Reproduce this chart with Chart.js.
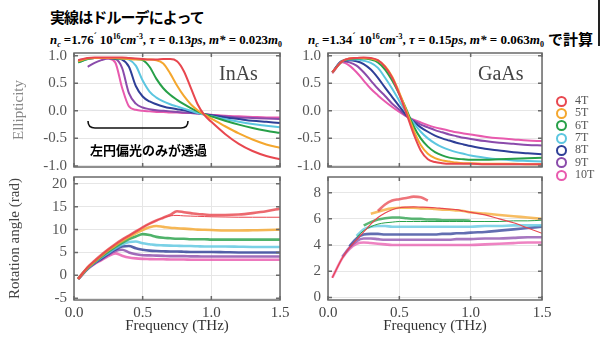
<!DOCTYPE html>
<html>
<head>
<meta charset="utf-8">
<script src="https://cdn.jsdelivr.net/npm/chart.js@4.4.1/dist/chart.umd.min.js"></script>
<style>
body { margin: 0; background: #fff; width: 602px; height: 338px; position: relative; overflow: hidden; font-family: "Liberation Serif", serif; }
canvas { position: absolute; }
.t { position: absolute; white-space: nowrap; line-height: 1; }
.jp { font-family: "Noto Sans CJK JP", sans-serif; font-weight: bold; color: #000; }
.f { font-family: "Liberation Serif", serif; font-weight: bold; font-size: 13px; color: #000; transform-origin: left center; }
.f i { font-style: italic; }
.sb { font-size: 8px; position: relative; top: 3px; }
.sp { font-size: 8px; position: relative; top: -5px; }
.lab { font-family: "Liberation Serif", serif; font-size: 20px; color: #444; }
.leg { position: absolute; left: 556px; font: 12px "Liberation Serif", serif; color: #555; }
.leg span { display: inline-block; width: 7px; height: 7px; border-radius: 50%; border: 2px solid; vertical-align: middle; margin-right: 8px; }
</style>
</head>
<body>
<div class="t jp" style="left:50px;top:9px;font-size:15px;letter-spacing:-0.9px">実線はドルーデによって</div>
<div class="t f" id="fL" data-w="232" style="left:50px;top:32px"><i>n</i><span class="sb"><i>c</i></span> =1.76<sup style="font-size:9px">´</sup> 10<span class="sp">16</span><i>cm</i><span class="sp">-3</span>, <i>τ</i> = 0.13<i>ps</i>, <i>m*</i> = 0.023<i>m</i><span class="sb">0</span></div>
<div class="t f" id="fR" data-w="236" style="left:308px;top:32px"><i>n</i><span class="sb"><i>c</i></span> =1.34<sup style="font-size:9px">´</sup> 10<span class="sp">16</span><i>cm</i><span class="sp">-3</span>, <i>τ</i> = 0.15<i>ps</i>, <i>m*</i> = 0.063<i>m</i><span class="sb">0</span></div>
<div class="t jp" style="left:548px;top:31px;font-size:15px">で計算</div>
<div style="position:absolute;left:598px;top:0;width:1.5px;height:46px;background:#222"></div>

<canvas id="c1"></canvas>
<canvas id="c2"></canvas>
<canvas id="c3"></canvas>
<canvas id="c4"></canvas>

<div class="t lab" style="left:219px;top:63px">InAs</div>
<div class="t lab" style="left:478px;top:63px">GaAs</div>
<svg style="position:absolute;left:0;top:0" width="602" height="338">
  <path d="M88,121 Q88,128 95,128 L181,128 Q188,128 188,121" fill="none" stroke="#111" stroke-width="1.6"/>
</svg>
<div class="t jp" style="left:90px;top:143px;font-size:13px">左円偏光のみが透過</div>
<div id="legend"></div>

<script>
// 磁場ごとの色
const fields = ["4T", "5T", "6T", "7T", "8T", "9T", "10T"];
const colors = ["#e8474f", "#f4a72e", "#27a048", "#5cc6e0", "#2e3f97", "#8a4bab", "#e85aae"];

// 共通の周波数 (THz)
const freq = [0.03, 0.1, 0.15, 0.2, 0.25, 0.3, 0.35, 0.4, 0.45, 0.5, 0.55, 0.6, 0.65, 0.7, 0.75, 0.8, 0.85, 0.9, 0.95, 1.0, 1.1, 1.2, 1.3, 1.4, 1.5];

// 目盛り
const freqTicks = [0, 0.5, 1.0, 1.5];
const ellTicks = [-1.0, -0.5, 0.0, 0.5, 1.0];
const rotTicksInAs = [-5, 0, 5, 10, 15, 20];
const rotTicksGaAs = [0, 2, 4, 6, 8];

// InAs 楕円率
const inasEll = [
    [0.92, 0.96, 0.97, 0.97, 0.97, 0.97, 0.97, 0.96, 0.95, 0.94, 0.93, 0.93, 0.94, 0.94, 0.9, 0.72, 0.42, 0.12, -0.08, -0.2, -0.42, -0.6, -0.73, -0.82, -0.88],
    [0.9, 0.95, 0.96, 0.96, 0.96, 0.96, 0.95, 0.94, 0.93, 0.93, 0.93, 0.92, 0.86, 0.68, 0.46, 0.27, 0.12, 0.01, -0.07, -0.14, -0.28, -0.41, -0.52, -0.61, -0.67],
    [0.88, 0.94, 0.96, 0.96, 0.96, 0.95, 0.95, 0.95, 0.94, 0.92, 0.8, 0.58, 0.41, 0.29, 0.2, 0.12, 0.05, -0.01, -0.06, -0.1, -0.18, -0.25, -0.31, -0.36, -0.4],
    [0.88, 0.94, 0.96, 0.96, 0.96, 0.96, 0.95, 0.93, 0.82, 0.55, 0.35, 0.24, 0.17, 0.12, 0.08, 0.04, 0.0, -0.04, -0.07, -0.1, -0.15, -0.2, -0.24, -0.27, -0.3],
    [0.9, 0.95, 0.96, 0.96, 0.96, 0.95, 0.93, 0.8, 0.45, 0.26, 0.17, 0.12, 0.08, 0.05, 0.03, 0.01, -0.02, -0.04, -0.06, -0.08, -0.12, -0.15, -0.18, -0.2, -0.22],
    [null, 0.8, 0.87, 0.92, 0.95, 0.94, 0.78, 0.32, 0.13, 0.06, 0.03, 0.01, 0.0, -0.01, -0.02, -0.03, -0.04, -0.05, -0.06, -0.08, -0.1, -0.12, -0.13, -0.14, -0.15],
    [0.92, 0.95, 0.96, 0.96, 0.95, 0.88, 0.42, 0.08, 0.02, 0.0, -0.01, -0.02, -0.02, -0.03, -0.03, -0.04, -0.04, -0.05, -0.06, -0.07, -0.09, -0.1, -0.11, -0.12, -0.12]
];

// GaAs 楕円率
const gaasEll = [
    [0.7, 0.9, 0.95, 0.96, 0.97, 0.96, 0.92, 0.8, 0.6, 0.3, -0.05, -0.42, -0.72, -0.88, -0.93, -0.95, -0.96, -0.96, -0.96, -0.96, -0.97, -0.97, -0.97, -0.97, -0.97],
    [0.7, 0.9, 0.95, 0.96, 0.96, 0.95, 0.91, 0.81, 0.62, 0.33, 0.0, -0.35, -0.62, -0.78, -0.86, -0.9, -0.92, -0.94, -0.95, -0.95, -0.96, -0.96, -0.96, -0.97, -0.97],
    [0.7, 0.9, 0.94, 0.95, 0.95, 0.93, 0.88, 0.75, 0.55, 0.3, 0.02, -0.28, -0.5, -0.65, -0.75, -0.81, -0.85, -0.87, -0.88, -0.89, -0.89, -0.88, -0.87, -0.86, -0.85],
    [0.7, 0.9, 0.93, 0.93, 0.91, 0.87, 0.78, 0.6, 0.4, 0.18, -0.04, -0.22, -0.38, -0.5, -0.59, -0.66, -0.71, -0.75, -0.78, -0.81, -0.85, -0.88, -0.9, -0.91, -0.92],
    [0.7, 0.91, 0.92, 0.9, 0.85, 0.75, 0.6, 0.42, 0.25, 0.08, -0.08, -0.2, -0.3, -0.38, -0.45, -0.5, -0.54, -0.58, -0.61, -0.64, -0.69, -0.72, -0.75, -0.77, -0.79],
    [0.7, 0.9, 0.88, 0.82, 0.7, 0.55, 0.4, 0.27, 0.13, 0.02, -0.1, -0.18, -0.25, -0.3, -0.35, -0.39, -0.43, -0.46, -0.49, -0.51, -0.55, -0.58, -0.6, -0.62, -0.63],
    [0.68, 0.88, 0.82, 0.7, 0.55, 0.4, 0.28, 0.17, 0.07, -0.02, -0.1, -0.16, -0.21, -0.26, -0.3, -0.33, -0.36, -0.39, -0.41, -0.43, -0.47, -0.5, -0.52, -0.54, -0.55]
];

// InAs 回転角 (実測)
const inasRot = [
    [-0.8, 1.8, 3.2, 4.5, 5.7, 6.8, 7.8, 8.7, 9.6, 10.5, 11.3, 12.0, 12.6, 13.2, 14.0, 13.8, 13.6, 13.4, 13.3, 13.2, 13.2, 13.3, 13.6, 14.0, 14.6],
    [-0.8, 1.7, 3.0, 4.3, 5.5, 6.5, 7.5, 8.4, 9.2, 9.9, 10.5, 10.8, 10.6, 10.4, 10.3, 10.2, 10.1, 10.0, 9.95, 9.9, 9.8, 9.8, 9.85, 9.9, 10.0],
    [-0.8, 1.6, 2.9, 4.1, 5.2, 6.2, 7.1, 7.9, 8.5, 9.0, 8.8, 8.4, 8.2, 8.1, 8.0, 8.0, 7.9, 7.9, 7.9, 7.8, 7.8, 7.8, 7.8, 7.8, 7.8],
    [-0.8, 1.5, 2.8, 3.9, 4.9, 5.9, 6.7, 7.3, 7.4, 7.0, 6.8, 6.6, 6.55, 6.5, 6.45, 6.4, 6.4, 6.35, 6.3, 6.3, 6.3, 6.25, 6.2, 6.2, 6.2],
    [-0.8, 1.5, 2.7, 3.7, 4.7, 5.6, 6.3, 6.4, 5.9, 5.6, 5.4, 5.3, 5.25, 5.2, 5.2, 5.15, 5.1, 5.1, 5.1, 5.1, 5.05, 5.0, 5.0, 5.0, 5.0],
    [-0.8, 1.4, 2.6, 3.5, 4.5, 5.3, 5.6, 5.0, 4.6, 4.4, 4.35, 4.3, 4.25, 4.2, 4.2, 4.2, 4.15, 4.15, 4.1, 4.1, 4.1, 4.1, 4.1, 4.1, 4.1],
    [-0.8, 1.4, 2.5, 3.3, 4.2, 4.8, 4.3, 3.9, 3.7, 3.6, 3.55, 3.5, 3.5, 3.45, 3.45, 3.45, 3.4, 3.4, 3.4, 3.4, 3.4, 3.4, 3.4, 3.4, 3.4]
];
// InAs 4T ドルーデ計算
const inasRotFit4T = [-0.8, 1.8, 3.2, 4.5, 5.7, 6.8, 7.8, 8.7, 9.6, 10.5, 11.3, 12.0, 12.6, 13.0, 13.1, 13.0, 12.95, 12.9, 12.85, 12.8, 12.75, 12.7, 12.7, 12.7, 12.7];

// GaAs 回転角 (実測)
const gaasRot = [
    [null, null, null, null, null, null, 6.6, 7.1, 7.4, 7.5, 7.6, 7.7, 7.65, 7.4, null, null, null, null, null, null, null, null, null, null, null],
    [null, null, null, null, null, 6.4, 6.55, 6.7, 6.8, 6.85, 6.85, 6.85, 6.8, 6.8, 6.75, 6.7, 6.7, 6.65, 6.6, 6.5, 6.4, 6.3, 6.2, 6.1, 6.0],
    [null, null, null, null, 5.5, 5.75, 5.95, 6.05, 6.1, 6.1, 6.05, 6.0, 6.0, 5.95, 5.95, 5.9, 5.9, 5.9, 5.9, 5.85, null, null, null, null, null],
    [null, null, null, 4.7, 5.2, 5.4, 5.45, 5.45, 5.4, 5.4, 5.4, 5.4, 5.4, 5.4, 5.4, 5.4, 5.4, 5.4, 5.4, 5.4, 5.45, 5.45, 5.5, 5.5, 5.5],
    [null, null, 3.9, 4.5, 4.8, 4.85, 4.85, 4.8, 4.8, 4.8, 4.8, 4.8, 4.8, 4.8, 4.8, 4.85, 4.85, 4.9, 4.9, 4.95, 5.0, 5.1, 5.2, 5.3, 5.4],
    [null, 3.1, 3.8, 4.3, 4.5, 4.5, 4.45, 4.4, 4.4, 4.4, 4.4, 4.4, 4.4, 4.4, 4.4, 4.4, 4.4, 4.45, 4.45, 4.45, 4.5, 4.5, 4.55, 4.6, 4.6],
    [1.5, 3.0, 3.7, 4.1, 4.2, 4.15, 4.1, 4.05, 4.0, 4.0, 4.0, 4.0, 4.0, 4.0, 4.0, 4.0, 4.0, 4.0, 4.0, 4.0, 4.05, 4.1, 4.15, 4.2, 4.2]
];
// GaAs ドルーデ計算 (4T, 6T)
const gaasRotFit4T = [1.5, 3.0, 3.8, 4.4, 5.0, 5.6, 6.1, 6.45, 6.7, 6.85, 6.9, 6.92, 6.9, 6.88, 6.85, 6.8, 6.75, 6.7, 6.6, 6.5, 6.3, 6.0, 5.7, 5.3, 4.9];
const gaasRotFit6T = [null, null, null, 4.6, 5.1, 5.4, 5.6, 5.7, 5.75, 5.8, 5.8, 5.8, 5.8, 5.8, 5.8, 5.8, 5.8, 5.8, 5.8, 5.8, 5.8, 5.8, 5.85, 5.85, 5.9];

// -------------------------------
// 枠と内向きの目盛り
// -------------------------------
const framePlugin = {
    id: "frame",
    afterDraw(chart) {
        const { ctx, chartArea: a, scales } = chart;
        ctx.save();
        ctx.strokeStyle = "#6a6a6a";
        ctx.lineWidth = 1.5;
        ctx.strokeRect(a.left, a.top, a.width, a.height);
        ctx.beginPath();
        scales.x.ticks.forEach(t => {
            const px = scales.x.getPixelForValue(t.value);
            ctx.moveTo(px, a.bottom); ctx.lineTo(px, a.bottom - 4);
            ctx.moveTo(px, a.top); ctx.lineTo(px, a.top + 4);
        });
        scales.y.ticks.forEach(t => {
            const py = scales.y.getPixelForValue(t.value);
            ctx.moveTo(a.left, py); ctx.lineTo(a.left + 4, py);
            ctx.moveTo(a.right, py); ctx.lineTo(a.right - 4, py);
        });
        ctx.stroke();
        ctx.restore();
    }
};

function line(vals, color, width) {
    return {
        data: freq.map((f, i) => ({ x: f, y: vals[i] })),
        borderColor: color,
        borderWidth: width,
        pointRadius: 0,
        cubicInterpolationMode: "monotone",
        fill: false
    };
}

function makeChart(id, box, datasets, y, showX, yTitle) {
    const cv = document.getElementById(id);
    cv.width = box.w; cv.height = box.h;
    cv.style.left = box.l + "px"; cv.style.top = box.t + "px";
    const tickFont = { family: "Liberation Serif", size: 15 };
    return new Chart(cv, {
        type: "line",
        data: { datasets: datasets },
        options: {
            responsive: false,
            animation: false,
            layout: { padding: { top: 20, right: 15, left: 0, bottom: showX ? 0 : 6 } },
            plugins: { legend: { display: false }, tooltip: { enabled: false } },
            scales: {
                x: {
                    type: "linear", min: 0, max: 1.5,
                    afterBuildTicks: s => { s.ticks = freqTicks.map(v => ({ value: v })); },
                    afterFit: s => { s.height = showX ? 38 : 0; },
                    border: { display: false },
                    grid: { color: "#e6e6e6", drawTicks: false },
                    ticks: { display: showX, padding: 4, color: "#444", font: tickFont, callback: v => v.toFixed(1) },
                    title: { display: showX, text: "Frequency (THz)", color: "#333", font: { family: "Liberation Serif", size: 15 }, padding: { top: 0, bottom: 3 } }
                },
                y: {
                    min: y.min, max: y.max,
                    afterBuildTicks: s => { s.ticks = y.ticks.map(v => ({ value: v })); },
                    afterFit: s => { s.width = 74; },
                    border: { display: false },
                    grid: { color: "#e6e6e6", drawTicks: false },
                    ticks: { padding: 7, color: "#555", font: tickFont, callback: y.fmt },
                    title: yTitle ? { display: true, text: yTitle.text, color: yTitle.color, font: { family: "Liberation Serif", size: 15 }, padding: { top: yTitle.pad, bottom: 0 } } : { display: false }
                }
            }
        },
        plugins: [framePlugin]
    });
}

const fmt1 = v => v.toFixed(1);
const fmt0 = v => String(v);

// 楕円率 (上段)
makeChart("c1", { l: 0, t: 33, w: 295, h: 150 },
    inasEll.map((v, i) => line(v, colors[i], 2)),
    { min: -1.02, max: 1.05, ticks: ellTicks, fmt: fmt1 }, false,
    { text: "Ellipticity", color: "#888", pad: 10 });

makeChart("c2", { l: 254, t: 33, w: 303, h: 150 },
    gaasEll.map((v, i) => line(v, colors[i], 2)),
    { min: -1.02, max: 1.05, ticks: ellTicks, fmt: fmt1 }, false, null);

// 回転角 (下段)
makeChart("c3", { l: 0, t: 157, w: 295, h: 181 },
    [line(inasRotFit4T, colors[0], 1)].concat(inasRot.map((v, i) => line(v, colors[i] + "d0", 2.6))),
    { min: -5.4, max: 21.5, ticks: rotTicksInAs, fmt: fmt0 }, true,
    { text: "Rotation angle (rad)", color: "#444", pad: 6 });

makeChart("c4", { l: 254, t: 157, w: 303, h: 181 },
    [line(gaasRotFit4T, colors[0], 1.2), line(gaasRotFit6T, colors[2], 1)].concat(gaasRot.map((v, i) => line(v, colors[i] + "c0", 2.6))),
    { min: -0.2, max: 9.2, ticks: rotTicksGaAs, fmt: fmt0 }, true, null);

// 凡例
const legend = document.getElementById("legend");
fields.forEach((f, i) => {
    const d = document.createElement("div");
    d.className = "leg";
    d.style.top = (93 + i * 12.3) + "px";
    d.innerHTML = `<span style="border-color:${colors[i]}"></span>${f}`;
    legend.appendChild(d);
});

// 式の幅を合わせる
document.querySelectorAll(".f").forEach(el => {
    const w = el.getBoundingClientRect().width;
    el.style.transform = `scaleX(${el.dataset.w / w})`;
});
</script>
</body>
</html>
